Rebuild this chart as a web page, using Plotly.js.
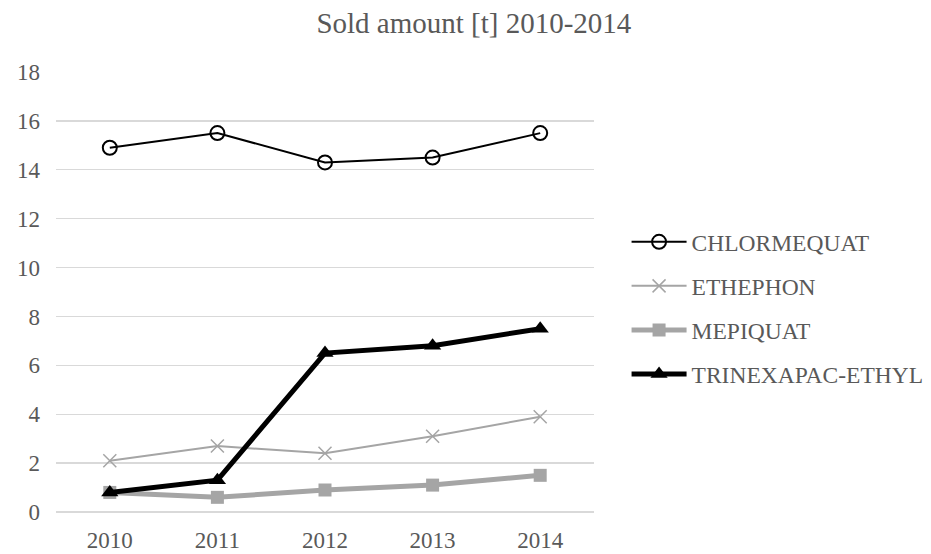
<!DOCTYPE html>
<html>
<head>
<meta charset="utf-8">
<script src="https://cdn.plot.ly/plotly-3.0.1.min.js"></script>
<style>html,body{margin:0;padding:0;background:#fff;}#chart{width:931px;height:554px;}</style>
</head>
<body>
<div id="chart"></div>
<script>
// Sold amount of growth regulators, tonnes per year
const years = ['2010', '2011', '2012', '2013', '2014'];
const chlormequat = [14.9, 15.5, 14.3, 14.5, 15.5];
const ethephon = [2.1, 2.7, 2.4, 3.1, 3.9];
const mepiquat = [0.8, 0.6, 0.9, 1.1, 1.5];
const trinexapac = [0.8, 1.3, 6.5, 6.8, 7.5];

const font = '"Liberation Serif", "Times New Roman", serif';
const textGray = '#595959';

const traces = [
  {
    name: 'CHLORMEQUAT', x: years, y: chlormequat, legendgroup: 'a',
    mode: 'lines+markers', line: {color: '#000', width: 2},
    marker: {symbol: 'circle-open', size: 14, color: '#000', line: {width: 2}}
  },
  {
    name: 'ETHEPHON', x: years, y: ethephon, legendgroup: 'b',
    mode: 'lines+markers', line: {color: '#a5a5a5', width: 2},
    marker: {symbol: 'x-thin-open', size: 13, color: '#a5a5a5', line: {width: 1.5, color: '#a5a5a5'}}
  },
  {
    name: 'MEPIQUAT', x: years, y: mepiquat, legendgroup: 'c',
    mode: 'lines+markers', line: {color: '#a5a5a5', width: 5},
    marker: {symbol: 'square', size: 13, color: '#a5a5a5'}
  },
  {
    name: 'TRINEXAPAC-ETHYL', x: years, y: trinexapac, legendgroup: 'd',
    mode: 'lines+markers', line: {color: '#000', width: 5},
    marker: {symbol: 'triangle-up', size: 15, color: '#000'}
  }
];

const layout = {
  width: 931, height: 554,
  margin: {l: 56, r: 337, t: 72, b: 42},
  paper_bgcolor: '#fff', plot_bgcolor: '#fff',
  font: {family: font, color: textGray, size: 23},
  title: {
    text: 'Sold amount [t] 2010-2014',
    font: {family: font, size: 29, color: textGray},
    x: 0.509, xref: 'container', xanchor: 'center',
    y: 0.958, yref: 'container', yanchor: 'middle'
  },
  xaxis: {
    type: 'category', range: [-0.5, 4.5], showgrid: false, zeroline: false, showline: false,
    ticks: '', ticklabelstandoff: 12, tickfont: {size: 23, color: textGray}
  },
  yaxis: {
    range: [0, 18], dtick: 2, showgrid: true, gridcolor: '#d9d9d9', gridwidth: 1.3,
    zeroline: true, zerolinecolor: '#d9d9d9', zerolinewidth: 1.3,
    showline: false, ticks: '', ticklabelstandoff: 15, tickfont: {size: 23, color: textGray}
  },
  showlegend: true,
  legend: {
    x: 0.673, xref: 'container', xanchor: 'left',
    y: 0.444, yref: 'container', yanchor: 'middle',
    tracegroupgap: 10.5, itemwidth: 55,
    font: {family: font, size: 23.5, color: textGray}, bgcolor: 'rgba(0,0,0,0)'
  }
};

Plotly.newPlot('chart', traces, layout, {displayModeBar: false, staticPlot: true});
</script>
</body>
</html>
